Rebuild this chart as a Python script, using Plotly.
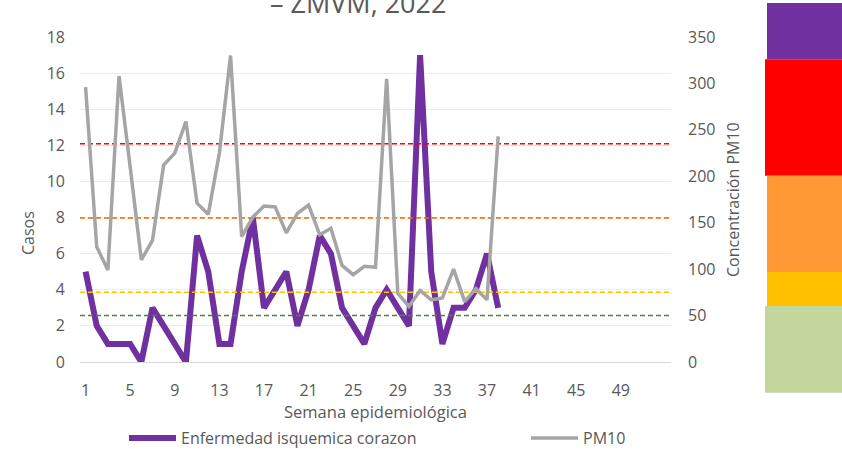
import plotly.graph_objects as go

weeks = list(range(1, 39))
casos = [5, 2, 1, 1, 1, 0, 3, 2, 1, 0, 7, 5, 1, 1, 5, 8, 3, 4, 5, 2,
         4, 7, 6, 3, 2, 1, 3, 4, 3, 2, 17, 5, 1, 3, 3, 4, 6, 3]
pm10 = [296, 124, 99, 308, 210, 110, 131, 212, 225, 259, 171, 159, 225, 330, 135, 156, 168, 167, 139, 160,
        169, 137, 144, 104, 94, 103, 102, 305, 74, 60, 77, 67, 69, 100, 65, 79, 67, 243]
x_ticks = list(range(1, 50, 4))
umbrales = [50, 75, 155, 235]
umbral_colores = ["#548235", "#FFC000", "#E46C0A", "#FF0000"]

FONT = "Open Sans"
GRAY = "#595959"
L, R, T, B = 80, 171, 37, 87
W, H = 842, 449
PW, PH = W - L - R, H - T - B


def px(x):
    return (x - L) / PW


def py(y):
    return (H - B - y) / PH


fig = go.Figure()

for v, c in zip(umbrales, umbral_colores):
    fig.add_trace(go.Scatter(x=[0.5, 53.5], y=[v, v], yaxis="y2", mode="lines",
                             line=dict(color=c, width=1.5, dash="5px,3px"),
                             showlegend=False, hoverinfo="skip"))

fig.add_trace(go.Scatter(x=weeks, y=casos, name="Enfermedad isquemica corazon",
                         mode="lines", line=dict(color="#7030A0", width=6),
                         legend="legend"))
fig.add_trace(go.Scatter(x=weeks, y=pm10, name="PM10", yaxis="y2",
                         mode="lines", line=dict(color="#A5A5A5", width=3.5),
                         legend="legend2"))

# colour scale image on the right
bands = [
    (767, 3, 59.3, "#7030A0"),
    (765, 59.3, 175.7, "#FF0000"),
    (767, 175.7, 272, "#FF9933"),
    (767, 272, 306, "#FFC000"),
    (765, 306, 392.7, "#C3D69B"),
]
shapes = []
for x0, y0, y1, c in bands:
    shapes.append(dict(type="rect", xref="paper", yref="paper",
                       x0=px(x0), x1=px(850), y0=py(y1), y1=py(y0),
                       fillcolor=c, line=dict(width=0), layer="above"))

annotations = [
    dict(text="– ZMVM, 2022", x=px(358), y=py(23), xref="paper", yref="paper",
         xanchor="center", yanchor="bottom", showarrow=False,
         font=dict(family=FONT, size=27, color=GRAY)),
    dict(text="Casos", x=px(28), y=py(233), xref="paper", yref="paper",
         textangle=-90, showarrow=False, xanchor="center", yanchor="middle",
         font=dict(family=FONT, size=16, color=GRAY)),
    dict(text="Concentración PM10", x=px(733), y=py(200), xref="paper", yref="paper",
         textangle=-90, showarrow=False, xanchor="center", yanchor="middle",
         font=dict(family=FONT, size=16, color=GRAY)),
    dict(text="Semana epidemiológica", x=px(375), y=py(411), xref="paper", yref="paper",
         showarrow=False, xanchor="center", yanchor="middle",
         font=dict(family=FONT, size=16.5, color=GRAY)),
]

leg_common = dict(orientation="h", yanchor="middle", xanchor="left",
                  font=dict(family=FONT, size=16, color=GRAY),
                  bgcolor="rgba(0,0,0,0)", itemwidth=47)

fig.update_layout(
    width=W, height=H,
    margin=dict(l=L, r=R, t=T, b=B, autoexpand=False),
    paper_bgcolor="white", plot_bgcolor="white",
    font=dict(family=FONT, size=16, color=GRAY),
    xaxis=dict(range=[0.5, 53.5], tickmode="array", tickvals=x_ticks,
               showgrid=False, zeroline=False, showline=True, linecolor="#D9D9D9",
               linewidth=1, ticks="", ticklabelstandoff=14,
               tickfont=dict(family=FONT, size=16, color=GRAY)),
    yaxis=dict(range=[0, 18], dtick=2, showgrid=True, gridcolor="#EBEBEB",
               zeroline=False, ticks="", ticklabelstandoff=14,
               tickfont=dict(family=FONT, size=16, color=GRAY)),
    yaxis2=dict(range=[0, 350], dtick=50, overlaying="y", side="right",
                showgrid=False, zeroline=False, ticks="", ticklabelstandoff=16,
                tickfont=dict(family=FONT, size=16, color=GRAY)),
    legend=dict(x=px(124), y=py(438), **leg_common),
    legend2=dict(x=px(526), y=py(438), **leg_common),
    shapes=shapes,
    annotations=annotations,
)

fig.write_html("out.html", config={"displayModeBar": False},
               post_script="document.body.style.margin='0';document.body.style.overflow='hidden';")
